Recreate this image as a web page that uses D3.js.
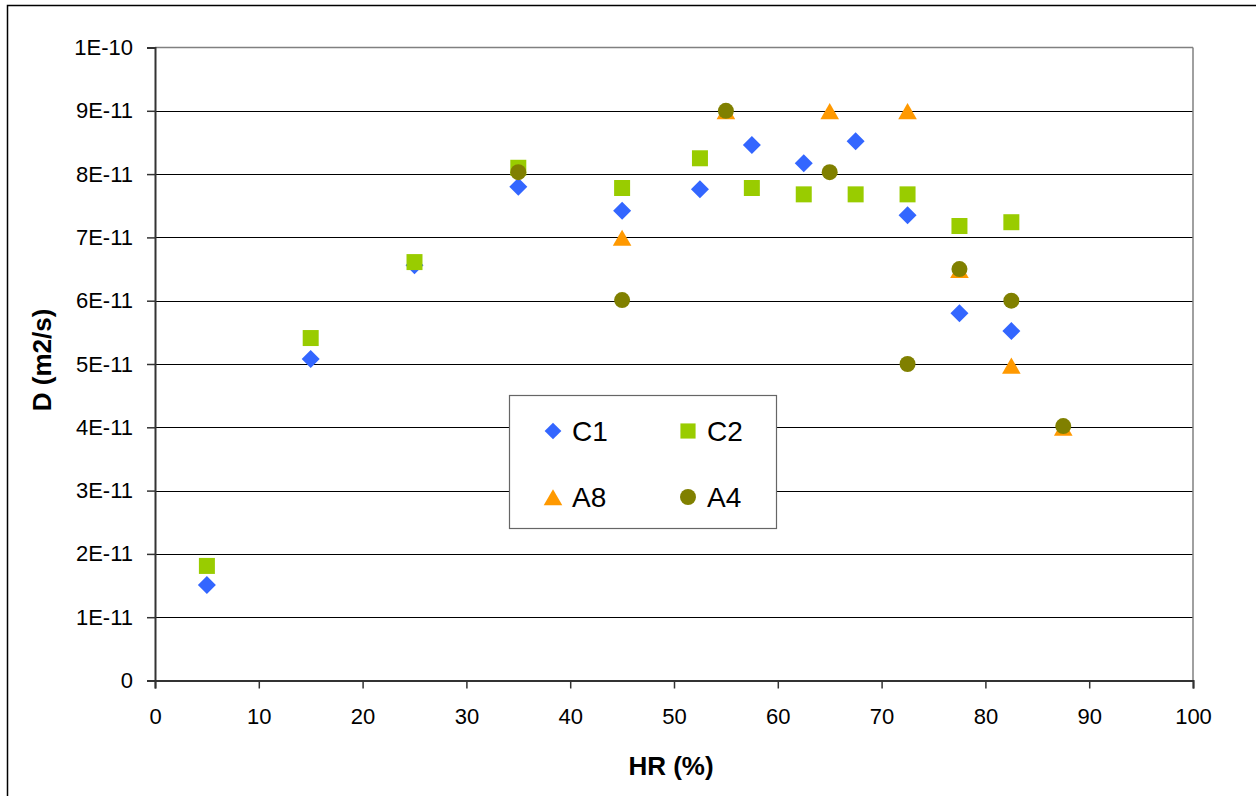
<!DOCTYPE html>
<html><head><meta charset="utf-8">
<script src="https://cdn.jsdelivr.net/npm/d3@7"></script>
<style>body{margin:0;background:#fff;} text{font-family:"Liberation Sans",Arial,sans-serif;}</style>
</head><body>
<svg id="c" width="1256" height="796"></svg>
<script>
const xC1 = [5,15,25,35,45,52.5,57.5,62.5,67.5,72.5,77.5,82.5];
const yC1 = [1.51e-11,5.08e-11,6.56e-11,7.8e-11,7.42e-11,7.76e-11,8.46e-11,8.17e-11,8.52e-11,7.35e-11,5.8e-11,5.52e-11];
const xC2 = [5,15,25,35,45,52.5,57.5,62.5,67.5,72.5,77.5,82.5];
const yC2 = [1.81e-11,5.41e-11,6.61e-11,8.1e-11,7.78e-11,8.25e-11,7.78e-11,7.68e-11,7.68e-11,7.68e-11,7.18e-11,7.24e-11];
const xA8 = [45,55,65,72.5,77.5,82.5,87.5];
const yA8 = [7.0e-11,9.0e-11,9.0e-11,9.0e-11,6.49e-11,4.98e-11,4.0e-11];
const xA4 = [35,45,55,65,72.5,77.5,82.5,87.5];
const yA4 = [8.03e-11,6.01e-11,9.0e-11,8.03e-11,5.0e-11,6.5e-11,6.0e-11,4.02e-11];
const yTicks = [0,1e-11,2e-11,3e-11,4e-11,5e-11,6e-11,7e-11,8e-11,9e-11,1e-10];
const yTickLabels = ["0","1E-11","2E-11","3E-11","4E-11","5E-11","6E-11","7E-11","8E-11","9E-11","1E-10"];
const xTicks = [0,10,20,30,40,50,60,70,80,90,100];
const seriesNames = ["C1","C2","A8","A4"];
const seriesColors = ["#3366FF","#99CC00","#FF9900","#808000"];

const svg = d3.select("#c");
const L=155, R=1193, T=47.5, B=680.5;
const x = d3.scaleLinear().domain([0,100]).range([L,R]);
const y = d3.scaleLinear().domain([0,1e-10]).range([B,T]);

svg.append("rect").attr("x",7.5).attr("y",5.5).attr("width",1300).attr("height",900)
  .attr("fill","#fff").attr("stroke","#000").attr("stroke-width",1.5);

svg.append("g").selectAll("line").data(yTicks.slice(1,-1)).join("line")
  .attr("x1",L).attr("x2",R).attr("y1",d=>Math.round(y(d))+0.5).attr("y2",d=>Math.round(y(d))+0.5)
  .attr("stroke","#000").attr("stroke-width",1.2);
svg.append("line").attr("x1",L).attr("x2",R).attr("y1",y(1e-10)).attr("y2",y(1e-10)).attr("stroke","#808080").attr("stroke-width",1.5);
svg.append("line").attr("x1",R).attr("x2",R).attr("y1",T).attr("y2",B).attr("stroke","#808080").attr("stroke-width",1.5);

const yAxis = d3.axisLeft(y).tickValues(yTicks).tickFormat((d,i)=>yTickLabels[i]).tickSize(8).tickPadding(14);
const gy = svg.append("g").attr("transform",`translate(${L},0)`).call(yAxis);
const xAxis = d3.axisBottom(x).tickValues(xTicks).tickFormat(d3.format("d")).tickSize(8).tickPadding(14);
const gx = svg.append("g").attr("transform",`translate(0,${B})`).call(xAxis);
[gy,gx].forEach(g=>{
  g.attr("font-size",null).attr("font-family",null);
  g.select(".domain").attr("stroke","#333").attr("stroke-width",2);
  g.selectAll(".tick line").attr("stroke","#333").attr("stroke-width",1.5);
  g.selectAll(".tick text").attr("fill","#000").style("font-size","22px").style("font-family","'Liberation Sans',Arial,sans-serif");
});
gy.selectAll(".tick text").attr("x",-22);
gx.selectAll(".tick text").attr("dy","0.71em").attr("y",28);

svg.append("text").attr("x",671).attr("y",775).attr("text-anchor","middle")
  .style("font-size","26px").style("font-weight","bold").text("HR (%)");
svg.append("text").attr("transform","translate(51,360) rotate(-90)").attr("text-anchor","middle")
  .style("font-size","26px").style("font-weight","bold").text("D (m2/s)");

const shapes = [d3.symbolSquare, d3.symbolSquare, d3.symbolTriangle, d3.symbolCircle];
const rot = [45,0,0,0];
const dy = [0,0,3,0];
const sizes = [162, 256, 150, 201];
const data = [[xC1,yC1],[xC2,yC2],[xA8,yA8],[xA4,yA4]];

const lg = svg.append("g");
lg.append("rect").attr("x",509.5).attr("y",395.5).attr("width",267).attr("height",133)
  .attr("fill","#fff").attr("stroke","#666").attr("stroke-width",1.2);
const legPos = [[553,431],[688,431],[553,497],[688,497]];
const legSizes = [140,230,150,200];
seriesNames.forEach((n,i)=>{
  lg.append("path").attr("d",d3.symbol().type(shapes[i]).size(legSizes[i])())
    .attr("transform",`translate(${legPos[i][0]},${legPos[i][1]+dy[i]}) rotate(${rot[i]})`).attr("fill",seriesColors[i]);
  lg.append("text").attr("x",legPos[i][0]+19).attr("y",legPos[i][1]).attr("dy","0.36em")
    .style("font-size","28px").text(n);
});

data.forEach(([xs,ys],i)=>{
  svg.append("g").selectAll("path").data(xs.map((v,j)=>[v,ys[j]])).join("path")
    .attr("d",d3.symbol().type(shapes[i]).size(sizes[i])())
    .attr("transform",d=>`translate(${x(d[0])},${y(d[1])+dy[i]}) rotate(${rot[i]})`)
    .attr("fill",seriesColors[i]);
});
</script>
</body></html>
